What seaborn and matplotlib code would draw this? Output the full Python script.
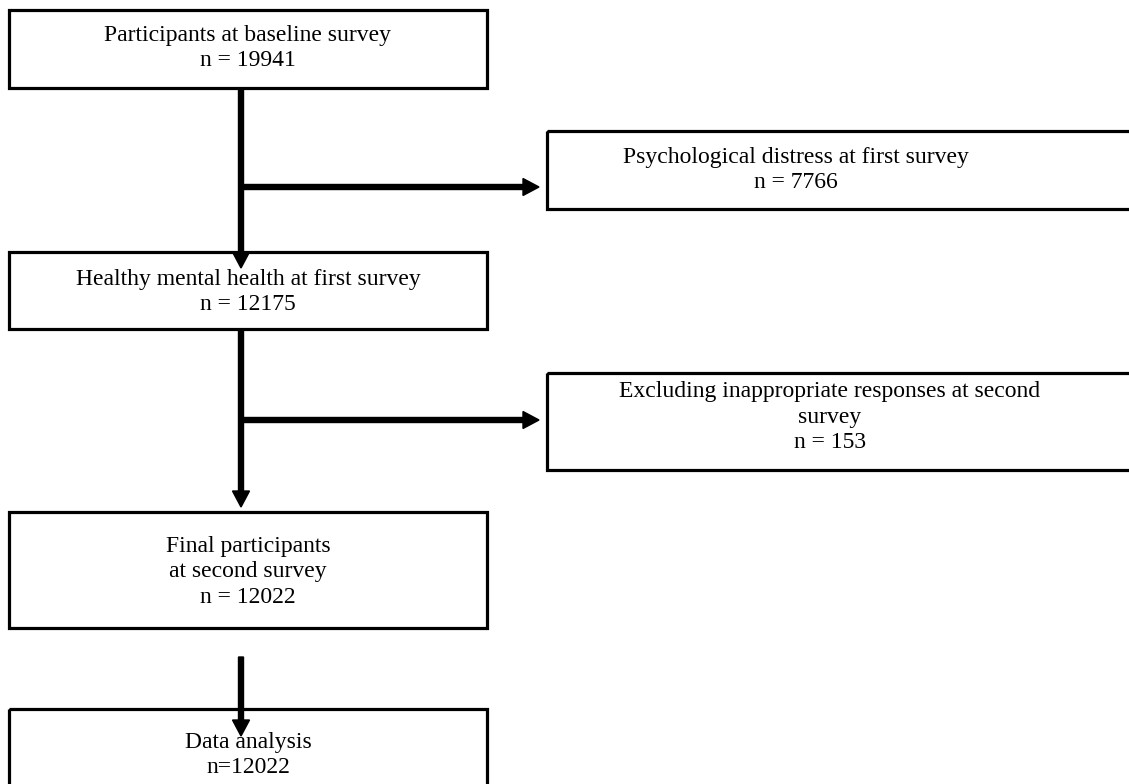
import matplotlib
matplotlib.use("Agg")
import matplotlib.pyplot as plt
import seaborn as sns
from matplotlib.patches import Rectangle

# flowchart content
main_labels = ["Participants at baseline survey",
               "Healthy mental health at first survey",
               "Final participants\nat second survey",
               "Data analysis"]
main_counts = [19941, 12175, 12022, 12022]
main_fmt = ["n = {}", "n = {}", "n = {}", "n={}"]

excluded_labels = ["Psychological distress at first survey",
                   "Excluding inappropriate responses at second\nsurvey"]
excluded_counts = [7766, 153]

sns.set_theme(style="white")
plt.rcParams['font.family'] = ['Liberation Serif', 'DejaVu Serif']

fig = plt.figure(figsize=(11.29, 7.84), dpi=100)
ax = fig.add_axes([0, 0, 1, 1])
ax.set_xlim(0, 1129)
ax.set_ylim(784, 0)
ax.axis("off")

# box geometry in pixel units: (left, top, right, bottom, text center x, text center y)
main_boxes = [(9, 10, 487, 88, 248, 48),
              (9, 252, 487, 329, 248, 292),
              (9, 512, 487, 628, 248, 572),
              (9, 709, 487, 820, 248, 755)]
side_boxes = [(547, 131, 1150, 209, 796, 170),
              (547, 373, 1150, 470, 830, 417)]


def draw_box(geom, text):
    x0, y0, x1, y1, tx, ty = geom
    ax.add_patch(Rectangle((x0, y0), x1 - x0, y1 - y0, fill=False,
                           edgecolor="black", lw=2.3, zorder=2))
    ax.text(tx, ty, text, ha="center", va="center", fontsize=17,
            linespacing=1.3, color="black", zorder=3)


for geom, lab, cnt, fmt in zip(main_boxes, main_labels, main_counts, main_fmt):
    draw_box(geom, lab + "\n" + fmt.format(cnt))

for geom, lab, cnt in zip(side_boxes, excluded_labels, excluded_counts):
    draw_box(geom, lab + "\n" + "n = {}".format(cnt))


def arrow(x0, y0, x1, y1):
    ax.arrow(x0, y0, x1 - x0, y1 - y0, width=5, head_width=17,
             head_length=16, length_includes_head=True,
             color="black", zorder=4)


# vertical flow
arrow(241, 88, 241, 268)
arrow(241, 329, 241, 507)
arrow(241, 657, 241, 736)
# exclusions
arrow(241, 187, 539, 187)
arrow(241, 420, 539, 420)

plt.savefig("out.png", dpi=100)
